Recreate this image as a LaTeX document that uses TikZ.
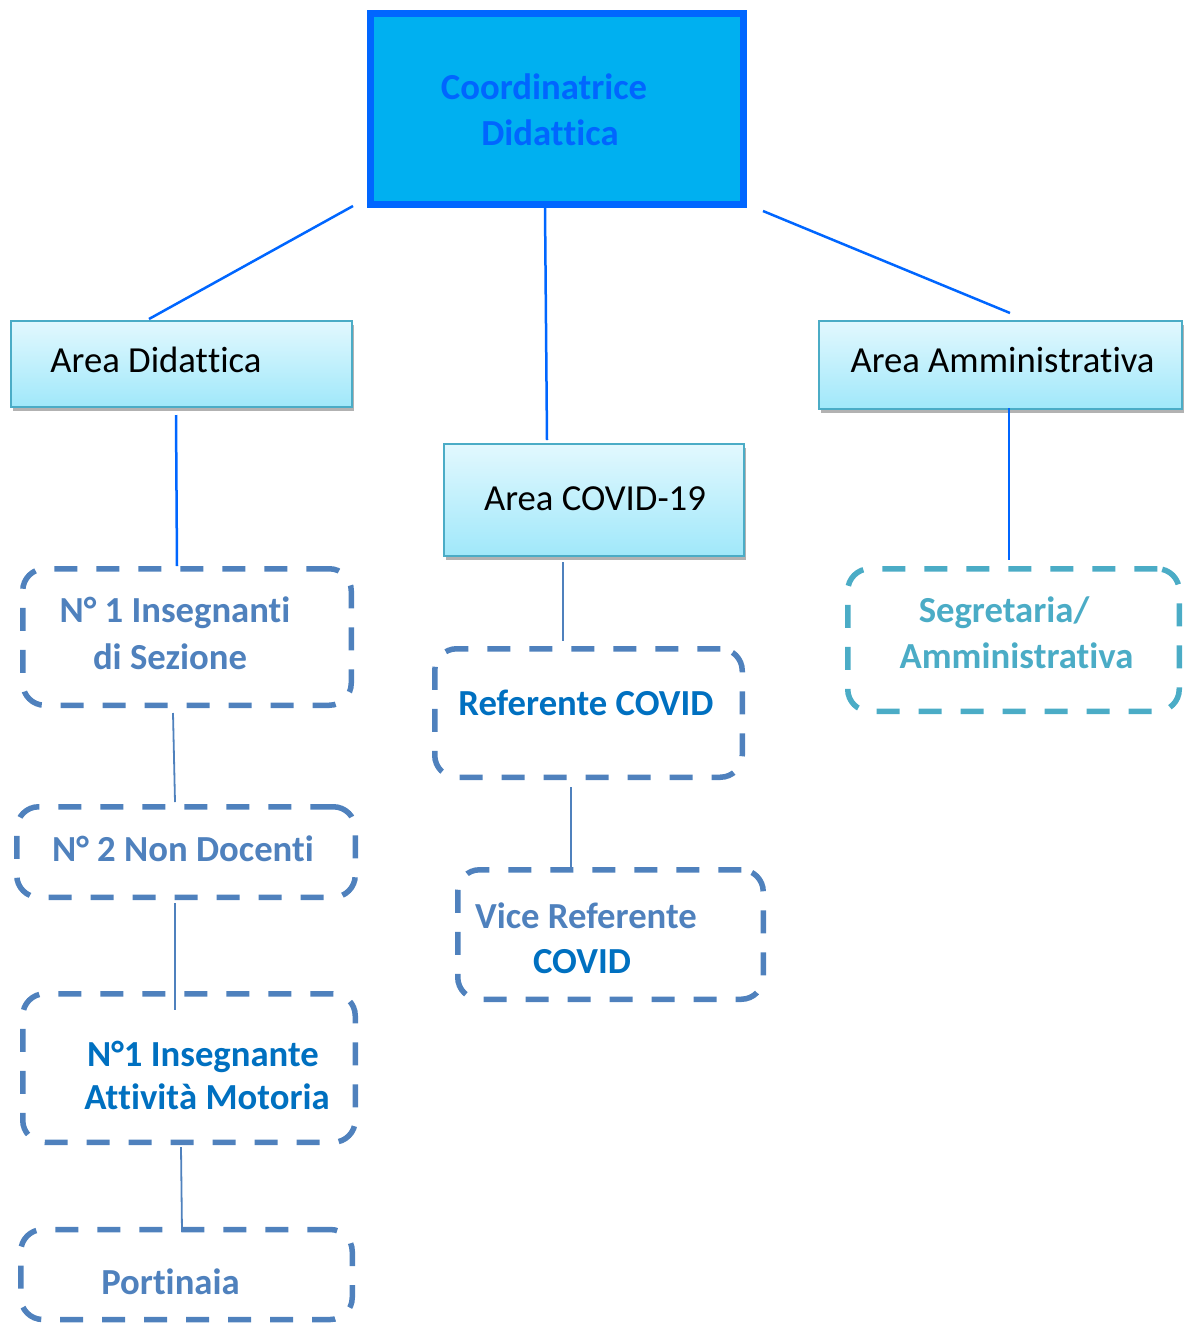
\documentclass[tikz,border=0pt]{standalone}
\usepackage{fontspec}
\setmainfont[Ligatures={NoCommon,NoContextual},Contextuals={NoAlternate}]{Carlito}
\usetikzlibrary{shadows}
\newcommand{\nlg}{\kern0pt}
\definecolor{topblue}{RGB}{0,102,255}
\definecolor{topfill}{RGB}{0,176,240}
\definecolor{areatop}{RGB}{226,248,254}
\definecolor{areabot}{RGB}{160,232,250}
\definecolor{areaedge}{RGB}{75,172,198}
\definecolor{steel}{RGB}{79,129,189}
\definecolor{darkblue}{RGB}{0,112,192}
\definecolor{tealc}{RGB}{75,172,198}
\begin{document}
\begin{tikzpicture}[x=1pt,y=-1pt,
  txt/.style={font=\fontsize{36.7}{46}\selectfont, inner sep=0pt, anchor=base},
  btxt/.style={txt, font=\fontsize{36.7}{46}\selectfont\bfseries},
  topbox/.style={draw=topblue, fill=topfill, line width=7pt, minimum width=373pt, minimum height=191pt, inner sep=0pt},
  areabox/.style={draw=areaedge, line width=2pt, top color=areatop, bottom color=areabot,
    drop shadow={shadow xshift=1.5pt, shadow yshift=-4pt, fill=black, opacity=0.3}, inner sep=0pt},
  dbox/.style={draw=steel, line width=5.5pt, dash pattern=on 23pt off 19pt, rounded corners=22pt, inner sep=0pt},
  bluec/.style={draw=topblue, line width=2.5pt},
  thinc/.style={draw=steel, line width=1.8pt}
]
\useasboundingbox (0,0) rectangle (1184,1326);

% boxes
\node[topbox] (top) at (557,109) {};
\node[areabox, minimum width=341pt, minimum height=86pt] (ad) at (181.5,364) {};
\node[areabox, minimum width=300pt, minimum height=112pt] (cov) at (594,500) {};
\node[areabox, minimum width=363pt, minimum height=88pt] (aa) at (1000.5,365) {};

\node[dbox, minimum width=328.5pt, minimum height=136.5pt] (n1) at (187,637) {};
\node[dbox, minimum width=338.5pt, minimum height=90.5pt] (n2) at (186,852) {};
\node[dbox, minimum width=332.5pt, minimum height=148.5pt] (n3) at (189,1068) {};
\node[dbox, minimum width=331.5pt, minimum height=90pt] (n4) at (186.5,1274.5) {};
\node[dbox, minimum width=307.5pt, minimum height=128.5pt] (r1) at (588.5,713) {};
\node[dbox, minimum width=305.5pt, minimum height=129.5pt] (r2) at (610.5,934.5) {};
\node[dbox, draw=tealc, minimum width=331.5pt, minimum height=142.5pt] (s1) at (1013.5,640) {};

% texts
\node[btxt, text=topblue] (t1a) at (544,99) {Coordinatrice};
\node[btxt, text=topblue] (t1b) at (550,145) {Didat\nlg t\nlg ica};
\node[txt] (tad) at (156,372.7) {Area Didat\nlg t\nlg ica};
\node[txt] (tcov) at (595,510) {Area COVID-19};
\node[txt] (taa) at (1002.5,372.7) {Area Amminis\nlg trat\nlg iva};
\node[btxt, text=steel] (tn1a) at (175,622.7) {N° 1 Insegnant\nlg i};
\node[btxt, text=steel] (tn1b) at (170,669) {di Sezione};
\node[btxt, text=steel] (tn2) at (183,861) {N° 2 Non Docent\nlg i};
\node[btxt, text=darkblue] (tn3a) at (203,1066) {N°1 Insegnante};
\node[btxt, text=darkblue] (tn3b) at (207,1109) {At\nlg t\nlg ivit\nlg à Motoria};
\node[btxt, text=steel] (tn4) at (170.5,1294) {Port\nlg inaia};
\node[btxt, text=darkblue] (tr1) at (586,715) {Referente COVID};
\node[btxt, text=steel] (tr2a) at (586,928) {Vice Referente};
\node[btxt, text=darkblue] (tr2b) at (582,973) {COVID};
\node[btxt, text=tealc] (ts1a) at (1004,622) {Segretaria/};
\node[btxt, text=tealc] (ts1b) at (1016.5,668) {Amminis\nlg trat\nlg iva};

% connectors
\draw[bluec] ([shift={(-14,-2)}]top.south west) -- ([shift={(-32.5,-1)}]ad.north);
\draw[bluec] ([shift={(-12,0)}]top.south) -- ([shift={(-47,-3)}]cov.north);
\draw[bluec] ([shift={(16,3)}]top.south east) -- ([shift={(9.5,-7)}]aa.north);
\draw[bluec] ([shift={(-5.5,7)}]ad.south) -- ([shift={(-10,0)}]n1.north);
\draw[bluec] ([shift={(8.5,-2)}]aa.south) -- ([shift={(-4.5,-6)}]s1.north);
\draw[thinc] ([shift={(-31,5)}]cov.south) -- ([shift={(-25.5,-5)}]r1.north);
\draw[thinc] ([shift={(-14,5)}]n1.south) -- ([shift={(-11,-2)}]n2.north);
\draw[thinc] ([shift={(-11,3)}]n2.south) -- ([shift={(-14,19)}]n3.north);
\draw[thinc] ([shift={(-8,2)}]n3.south) -- ([shift={(-4.5,5)}]n4.north);
\draw[thinc] ([shift={(-17.5,7)}]r1.south) -- ([shift={(-39.5,0)}]r2.north);
\end{tikzpicture}
\end{document}
